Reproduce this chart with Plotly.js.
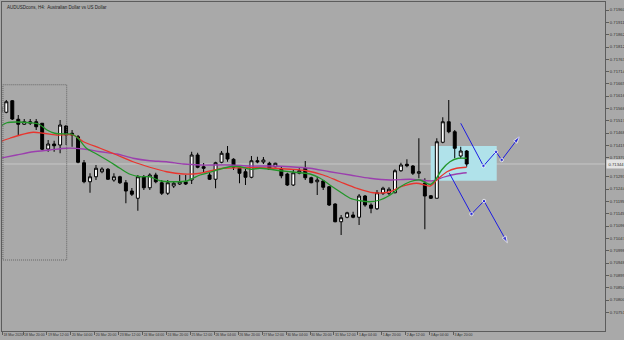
<!DOCTYPE html>
<html><head><meta charset="utf-8">
<script src="https://cdn.plot.ly/plotly-3.0.1.min.js"></script>
<style>html,body{margin:0;padding:0;background:#a9a9a9;}#chart{width:624px;height:340px;}</style>
</head><body><div id="chart"></div>
<script>
// ---- data ----
const openP = [
0.71572,0.71551,0.71597,0.71523,0.71503,0.71507,0.71513,0.71507,0.71404,0.71424,
0.71420,0.71496,0.71467,0.71453,0.71349,0.71273,0.71293,0.71313,0.71323,0.71280,
0.71293,0.71269,0.71236,0.71207,0.71293,0.71249,0.71300,0.71269,0.71227,0.71256,
0.71264,0.71273,0.71280,0.71380,0.71333,0.71300,0.71283,0.71351,0.71387,0.71363,
0.71327,0.71313,0.71291,0.71357,0.71352,0.71347,0.71333,0.71323,0.71304,0.71260,
0.71307,0.71327,0.71289,0.71273,0.71276,0.71253,0.71184,0.71113,0.71131,0.71140,
0.71131,0.71216,0.71180,0.71165,0.71227,0.71227,0.71229,0.71317,0.71343,0.71336,
0.71307,0.71267,0.71217,0.71207,0.71431,0.71513,0.71473,0.71376,0.71396];
const closeP = [
0.71552,0.71593,0.71524,0.71503,0.71513,0.71513,0.71493,0.71403,0.71424,0.71417,
0.71500,0.71460,0.71460,0.71351,0.71273,0.71293,0.71327,0.71324,0.71283,0.71293,
0.71269,0.71236,0.71223,0.71293,0.71249,0.71300,0.71273,0.71227,0.71269,0.71267,
0.71273,0.71264,0.71380,0.71331,0.71327,0.71283,0.71349,0.71387,0.71364,0.71331,
0.71307,0.71291,0.71357,0.71353,0.71360,0.71323,0.71347,0.71297,0.71260,0.71309,
0.71317,0.71289,0.71269,0.71280,0.71251,0.71180,0.71113,0.71129,0.71149,0.71131,
0.71216,0.71180,0.71167,0.71229,0.71247,0.71243,0.71317,0.71340,0.71337,0.71307,
0.71313,0.71216,0.71207,0.71433,0.71513,0.71473,0.71407,0.71396,0.71344];
const highP = [
0.71580,0.71600,0.71600,0.71540,0.71524,0.71524,0.71524,0.71508,0.71440,0.71437,
0.71520,0.71500,0.71480,0.71460,0.71360,0.71307,0.71340,0.71331,0.71328,0.71307,
0.71297,0.71280,0.71248,0.71300,0.71300,0.71307,0.71309,0.71280,0.71280,0.71276,
0.71300,0.71300,0.71393,0.71389,0.71348,0.71309,0.71353,0.71396,0.71416,0.71367,
0.71333,0.71324,0.71376,0.71373,0.71372,0.71353,0.71349,0.71333,0.71309,0.71323,
0.71327,0.71356,0.71293,0.71293,0.71280,0.71256,0.71187,0.71140,0.71153,0.71153,
0.71224,0.71220,0.71187,0.71240,0.71253,0.71251,0.71323,0.71349,0.71363,0.71340,
0.71447,0.71287,0.71220,0.71447,0.71531,0.71600,0.71480,0.71413,0.71400];
const lowP = [
0.71548,0.71547,0.71520,0.71460,0.71500,0.71500,0.71480,0.71400,0.71393,0.71393,
0.71387,0.71420,0.71413,0.71347,0.71267,0.71229,0.71280,0.71307,0.71280,0.71273,
0.71264,0.71187,0.71216,0.71157,0.71240,0.71240,0.71267,0.71220,0.71220,0.71248,
0.71260,0.71260,0.71264,0.71327,0.71308,0.71280,0.71247,0.71347,0.71353,0.71320,
0.71267,0.71260,0.71287,0.71347,0.71344,0.71320,0.71331,0.71287,0.71256,0.71256,
0.71303,0.71280,0.71267,0.71220,0.71240,0.71176,0.71111,0.71060,0.71127,0.71127,
0.71100,0.71173,0.71147,0.71160,0.71220,0.71220,0.71227,0.71313,0.71331,0.71300,
0.71287,0.71083,0.71204,0.71207,0.71427,0.71467,0.71367,0.71367,0.71333];

// moving averages (sampled along the drawn lines: bar position, price)
const maFastX = [-0.1,1.1,2.7,5.0,6.4,7.8,9.1,10.8,11.9,13.0,14.4,16.1,18.3,20.0,21.7,23.4,25.0,26.7,28.9,31.2,32.3,33.4,35.1,36.7,38.4,40.1,41.8,43.4,45.1,46.8,48.5,50.1,51.8,53.5,55.1,56.8,58.5,60.2,61.8,63.5,65.2,66.9,68.5,70.2,71.9,72.7,73.8,75.2,76.6,78.0];
const maFastY = [0.71493,0.71509,0.71512,0.71509,0.71504,0.71480,0.71467,0.71464,0.71464,0.71447,0.71407,0.71384,0.71353,0.71327,0.71303,0.71293,0.71293,0.71277,0.71273,0.71276,0.71288,0.71300,0.71311,0.71323,0.71333,0.71333,0.71323,0.71327,0.71323,0.71317,0.71313,0.71309,0.71304,0.71287,0.71260,0.71233,0.71207,0.71197,0.71193,0.71200,0.71220,0.71253,0.71273,0.71280,0.71262,0.71278,0.71320,0.71353,0.71367,0.71367];
const maMidX = [-0.1,1.6,3.3,5.5,7.2,9.4,12.2,13.9,16.7,19.5,22.2,25.0,27.8,30.6,33.4,34.5,37.3,40.1,42.9,45.7,48.5,51.2,54.0,56.8,59.6,62.4,65.2,66.9,69.6,71.9,73.0,74.7,76.3,78.0];
const maMidY = [0.71433,0.71447,0.71460,0.71471,0.71467,0.71460,0.71460,0.71433,0.71407,0.71380,0.71353,0.71331,0.71313,0.71304,0.71307,0.71313,0.71327,0.71329,0.71329,0.71327,0.71323,0.71317,0.71300,0.71273,0.71247,0.71229,0.71233,0.71252,0.71267,0.71256,0.71280,0.71313,0.71327,0.71331];
const maSlowX = [-0.1,2.7,5.5,8.3,11.1,13.9,16.7,19.5,22.2,25.0,27.8,30.6,33.4,38.4,41.8,45.1,48.5,51.8,55.1,58.5,61.8,65.2,68.5,72.4,74.1,76.3,78.0];
const maSlowY = [0.71367,0.71380,0.71393,0.71400,0.71407,0.71404,0.71393,0.71384,0.71367,0.71357,0.71353,0.71344,0.71340,0.71340,0.71336,0.71336,0.71333,0.71327,0.71313,0.71300,0.71287,0.71280,0.71283,0.71277,0.71291,0.71304,0.71309];

// drawn objects (bar position, price)
const zoneX = [71.98, 83.02];
const zoneY = [0.71277, 0.71416];
const boxX = [0.44, 11.1];
const boxY = [0.70960, 0.71661];
const upPathX = [77.0, 80.8, 82.9, 83.85, 86.8];
const upPathY = [0.71507, 0.71336, 0.71393, 0.71360, 0.71453];
const downPathX = [75.1, 78.8, 80.9, 84.8];
const downPathY = [0.71307, 0.71144, 0.71196, 0.71029];

// axis labels
const priceTicks = [0.71960,0.71911,0.71862,0.71812,0.71763,0.71714,0.71665,0.71616,0.71566,0.71517,0.71468,0.71419,0.71370,
0.71293,0.71244,0.71195,0.71145,0.71096,0.71047,0.70998,0.70948,0.70899,0.70850,0.70800,0.70751];
const timeLabels = ["18 Mar 2020","18 Mar 20:00","19 Mar 12:00","20 Mar 04:00","20 Mar 20:00","23 Mar 12:00","24 Mar 04:00","24 Mar 20:00","25 Mar 12:00","26 Mar 04:00","26 Mar 20:00","27 Mar 12:00","30 Mar 04:00","30 Mar 20:00","31 Mar 12:00","1 Apr 04:00","1 Apr 20:00","2 Apr 12:00","3 Apr 04:00","3 Apr 20:00"];
const titleText = "AUDUSDcons, H4:  Australian Dollar vs US Dollar";

// ---- build ----
const barIdx = openP.map((_, i) => i);
const lastClose = closeP[closeP.length - 1];
const timeTickVals = timeLabels.map((_, k) => k === 0 ? 0.35 : 4 * k - 0.2);
const fntY = {family: "Liberation Sans, Arial, sans-serif", size: 4.2, color: "#333333"};
const fntX = {family: "Liberation Sans, Arial, sans-serif", size: 3.5, color: "#333333"};
const blue = "rgb(28,28,225)";

const traces = [
  {type: "candlestick", x: barIdx, open: openP, high: highP, low: lowP, close: closeP,
   increasing: {line: {color: "#000000", width: 1}, fillcolor: "#ffffff"},
   decreasing: {line: {color: "#000000", width: 1}, fillcolor: "#000000"},
   whiskerwidth: 0, hoverinfo: "skip"},
  {type: "scatter", mode: "lines", x: maSlowX, y: maSlowY, line: {color: "#9b3fae", width: 1.3, shape: "spline", smoothing: 0.8}, hoverinfo: "skip"},
  {type: "scatter", mode: "lines", x: maMidX, y: maMidY, line: {color: "#e8352e", width: 1.3, shape: "spline", smoothing: 0.8}, hoverinfo: "skip"},
  {type: "scatter", mode: "lines", x: maFastX, y: maFastY, line: {color: "#23962a", width: 1.3, shape: "spline", smoothing: 0.8}, hoverinfo: "skip"},
  {type: "scatter", mode: "lines+markers", x: upPathX, y: upPathY, line: {color: blue, width: 1},
   marker: {color: blue, symbol: upPathX.map((_, i) => i === upPathX.length - 1 ? "arrow" : "circle"),
            size: upPathX.map((_, i) => i === 0 ? 0 : (i === upPathX.length - 1 ? 7 : 3.5)), angleref: "previous"}, hoverinfo: "skip"},
  {type: "scatter", mode: "lines+markers", x: downPathX, y: downPathY, line: {color: blue, width: 1},
   marker: {color: blue, symbol: downPathX.map((_, i) => i === downPathX.length - 1 ? "arrow" : "circle"),
            size: downPathX.map((_, i) => i === 0 ? 0 : (i === downPathX.length - 1 ? 7 : 3.5)), angleref: "previous"}, hoverinfo: "skip"}
];

const layout = {
  width: 624, height: 340,
  margin: {l: 2, r: 19, t: 2, b: 9, pad: 0},
  paper_bgcolor: "#a9a9a9", plot_bgcolor: "#a9a9a9",
  showlegend: false,
  xaxis: {range: [0.28, 101.13], showgrid: false, zeroline: false, showline: true, mirror: true,
          linecolor: "#5c5c5c", linewidth: 1, ticks: "outside", ticklen: 3, tickcolor: "#5c5c5c",
          tickvals: timeTickVals, ticktext: timeLabels, tickfont: fntX, tickangle: 0,
          ticklabelposition: "outside right", rangeslider: {visible: false}, automargin: false, fixedrange: true},
  yaxis: {range: [0.70676, 0.71992], side: "right", showgrid: false, zeroline: false, showline: true, mirror: true,
          linecolor: "#5c5c5c", linewidth: 1, ticks: "outside", ticklen: 3, tickcolor: "#5c5c5c",
          tickvals: priceTicks, ticktext: priceTicks.map(v => v.toFixed(5)), tickfont: fntY,
          automargin: false, fixedrange: true},
  shapes: [
    {type: "rect", xref: "x", yref: "y", x0: zoneX[0], x1: zoneX[1], y0: zoneY[0], y1: zoneY[1],
     fillcolor: "rgb(176,226,234)", line: {width: 0}, layer: "below"},
    {type: "line", xref: "paper", yref: "y", x0: 0, x1: 1, y0: lastClose, y1: lastClose,
     line: {color: "rgb(198,198,198)", width: 1}, layer: "below"},
    {type: "rect", xref: "x", yref: "y", x0: boxX[0], x1: boxX[1], y0: boxY[0], y1: boxY[1],
     line: {color: "#666666", width: 1, dash: "1px,1px"}, fillcolor: "rgba(0,0,0,0)", layer: "above"}
  ],
  annotations: [
    {xref: "paper", yref: "paper", x: 0, y: 1, xanchor: "left", yanchor: "top", xshift: 3, yshift: -1,
     text: titleText, showarrow: false, font: {family: "Liberation Sans, Arial, sans-serif", size: 4.5, color: "#222222"}},
    {xref: "paper", yref: "y", x: 1, y: lastClose, xanchor: "left", yanchor: "middle", xshift: 1,
     text: lastClose.toFixed(5), showarrow: false, bgcolor: "#e4e4e4", borderpad: 1.5,
     font: {family: "Liberation Sans, Arial, sans-serif", size: 4.2, color: "#333333"}}
  ]
};

Plotly.newPlot("chart", traces, layout, {staticPlot: true, displayModeBar: false});
</script></body></html>
